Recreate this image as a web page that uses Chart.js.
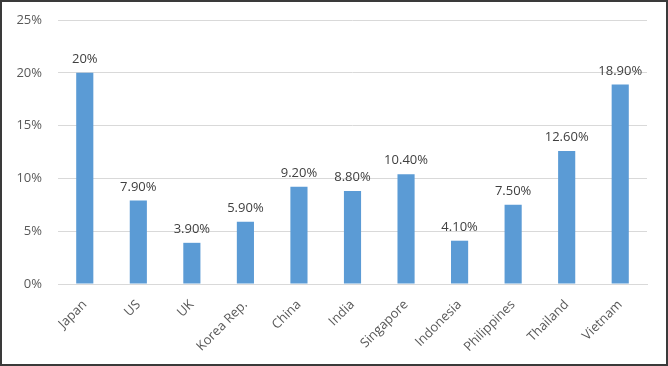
<!DOCTYPE html>
<html>
<head>
<meta charset="utf-8">
<script src="https://cdn.jsdelivr.net/npm/chart.js@4"></script>
<style>
  html, body { margin: 0; padding: 0; background: #fff; }
  #wrap { width: 668px; height: 366px; position: relative; }
</style>
</head>
<body>
<div id="wrap"><canvas id="myChart" width="668" height="366"></canvas></div>
<script>
const countries = ['Japan', 'US', 'UK', 'Korea Rep.', 'China', 'India', 'Singapore', 'Indonesia', 'Philippines', 'Thailand', 'Vietnam'];
const shares = [20, 7.9, 3.9, 5.9, 9.2, 8.8, 10.4, 4.1, 7.5, 12.6, 18.9];
const shareLabels = ['20%', '7.90%', '3.90%', '5.90%', '9.20%', '8.80%', '10.40%', '4.10%', '7.50%', '12.60%', '18.90%'];

const textColor = '#595959';
const fontFamily = "'Open Sans', 'Liberation Sans', sans-serif";

// labels over the bars + frame around the picture
const barLabels = {
    id: 'barLabels',
    afterDatasetsDraw(chart) {
        const ctx = chart.ctx;
        const meta = chart.getDatasetMeta(0);
        ctx.save();
        ctx.font = '13px ' + fontFamily;
        ctx.fillStyle = '#404040';
        ctx.textAlign = 'center';
        ctx.textBaseline = 'bottom';
        meta.data.forEach((bar, i) => {
            ctx.fillText(shareLabels[i], bar.x, bar.y - 7);
        });
        ctx.restore();
    },
    afterDraw(chart) {
        const ctx = chart.ctx;
        ctx.save();
        ctx.strokeStyle = '#3a3a3a';
        ctx.lineWidth = 2;
        ctx.strokeRect(1, 1, chart.width - 2, chart.height - 2);
        ctx.restore();
    }
};

new Chart(document.getElementById('myChart'), {
    type: 'bar',
    data: {
        labels: countries,
        datasets: [{
            data: shares,
            backgroundColor: '#5b9bd5',
            barPercentage: 0.64,
            categoryPercentage: 0.5
        }]
    },
    options: {
        responsive: false,
        animation: false,
        layout: { padding: { top: 20, right: 21, bottom: 0, left: 0 } },
        plugins: {
            legend: { display: false },
            tooltip: { enabled: false }
        },
        scales: {
            x: {
                grid: { display: false },
                border: { color: '#d9d9d9' },
                ticks: {
                    color: textColor,
                    font: { size: 13, family: fontFamily },
                    minRotation: 45,
                    maxRotation: 45,
                    padding: 5
                },
                afterFit(scale) { scale.height = 82; }
            },
            y: {
                min: 0,
                max: 25,
                grid: { color: '#d9d9d9', drawTicks: false },
                border: { display: false },
                ticks: {
                    stepSize: 5,
                    color: textColor,
                    font: { size: 13, family: fontFamily },
                    padding: 16,
                    callback: v => v + '%'
                },
                afterFit(scale) {
                    scale.width = 58;
                    // tick padding would otherwise push the plot top down
                    scale.paddingTop = 8;
                    scale.paddingBottom = 8;
                }
            }
        }
    },
    plugins: [barLabels]
});
</script>
</body>
</html>
